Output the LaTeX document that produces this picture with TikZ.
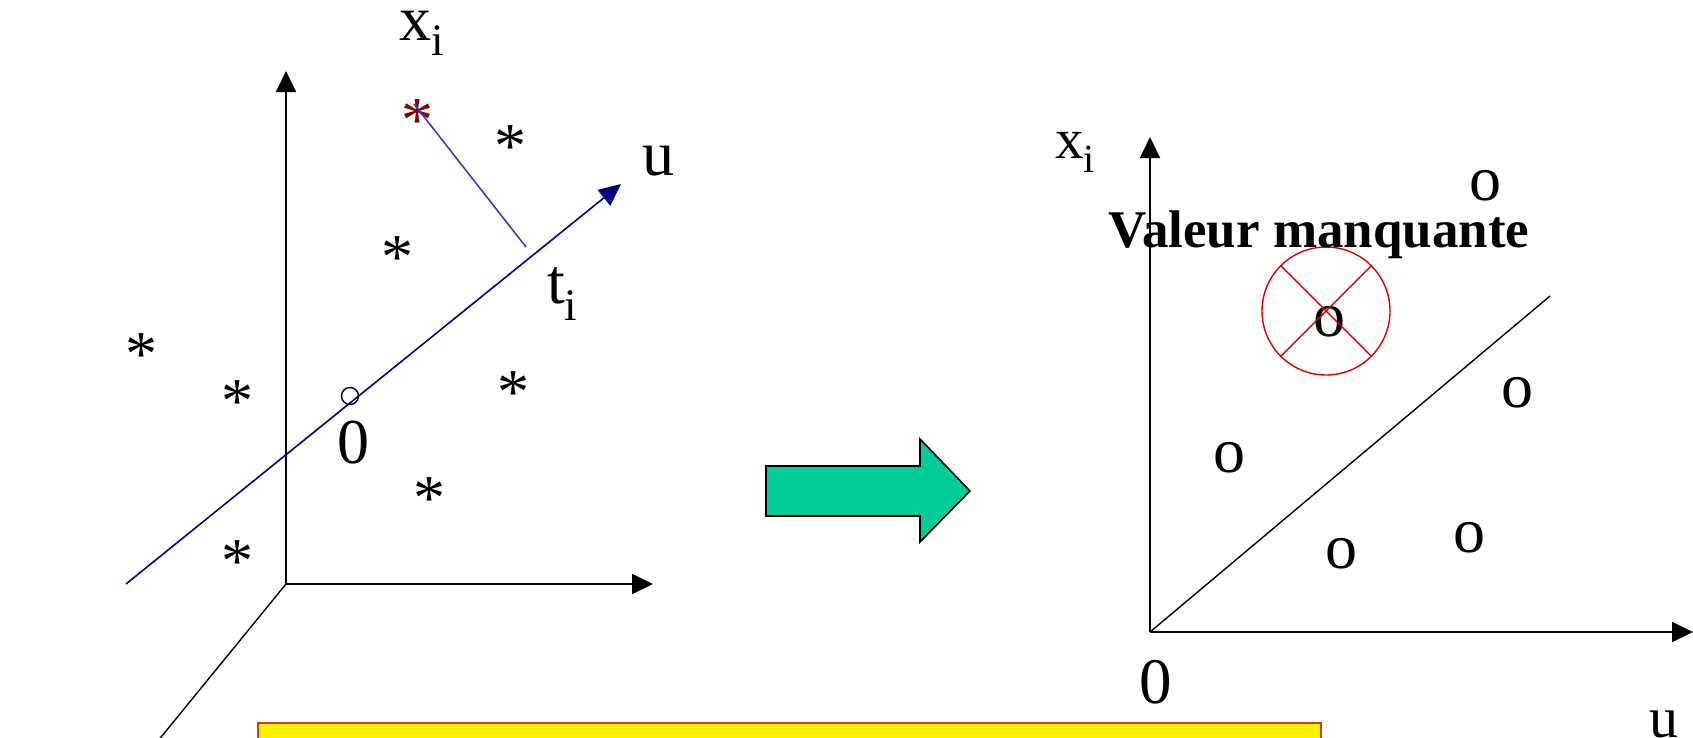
\documentclass[tikz,border=0pt]{standalone}
\usepackage{fontspec}
\setmainfont{Liberation Serif}
\usetikzlibrary{arrows.meta}
\definecolor{navy}{RGB}{0,0,128}
\definecolor{projblue}{RGB}{51,51,204}
\definecolor{darkred}{RGB}{128,0,0}
\definecolor{arrowgreen}{RGB}{0,204,153}
\definecolor{boxborder}{RGB}{190,70,20}
\definecolor{circred}{RGB}{220,0,0}
\tikzset{
  axis/.style={line width=1.8pt, -{Triangle[length=21pt,width=20pt]}},
  thinline/.style={line width=1.4pt},
  lbl/.style={font=\fontsize{64}{64}\selectfont, inner sep=0pt, anchor=base west},
  star/.style={font=\fontsize{64}{64}\selectfont, inner sep=0pt, anchor=base},
  pnt/.style={font=\fontsize{64}{64}\selectfont, inner sep=0pt, anchor=base},
}
\begin{document}
\begin{tikzpicture}[x=1pt,y=-1pt]
\useasboundingbox (0,0) rectangle (1693,737);
\clip (0,0) rectangle (1693,737);
% ---------- left panel ----------
\coordinate (O1) at (286,584);
\coordinate (Y1) at (286,71);
\coordinate (X1) at (653,584);
\coordinate (Z1) at (135,769);
\draw[axis] (O1) -- (Y1);
\draw[axis] (O1) -- (X1);
\draw[thinline] (O1) -- (Z1);
\coordinate (U0) at (126,584);
\coordinate (U1) at (621,184);
\draw[navy, line width=1.6pt, -{Triangle[length=22pt,width=20pt]}] (U0) -- (U1);
\node[circle, draw, line width=1.4pt, minimum size=17pt, inner sep=0pt] (orig) at (350,396) {};
% points
\node[star] (s1) at (141,375) {*};
\node[star] (s2) at (237,422) {*};
\node[star] (s3) at (397,278) {*};
\node[star] (s4) at (510,167) {*};
\node[star] (s5) at (513,413) {*};
\node[star] (s6) at (429,519) {*};
\node[star] (s7) at (237,582) {*};
\node[star, text=darkred] (sx) at (417,141) {*};
\coordinate (proj) at (526,247);
\coordinate (sxc) at (414,104);
\draw[projblue, line width=1.5pt] (sxc) -- (proj);
% labels
\node[lbl] (xil) at (399,40) {x\raisebox{-15pt}{\fontsize{45}{45}\selectfont i}};
\node[lbl] (til) at (547,303) {t\raisebox{-17pt}{\fontsize{45}{45}\selectfont i}};
\node[lbl] (ul) at (642,175) {u};
\node[lbl] (zl) at (337,463) {0};
% ---------- arrow ----------
\fill[arrowgreen] (766,466) -- (920,466) -- (920,439) -- (970,491) -- (920,542) -- (920,516) -- (766,516) -- cycle;
\draw[line width=1.6pt, line join=miter] (766,466) -- (920,466) -- (920,439) -- (970,491) -- (920,542) -- (920,516) -- (766,516) -- cycle;
% ---------- right panel ----------
\coordinate (O2) at (1150,632);
\coordinate (Y2) at (1150,137);
\coordinate (X2) at (1693,632);
\coordinate (D2) at (1550,296);
\draw[axis] (O2) -- (Y2);
\draw[axis] (O2) -- (X2);
\draw[thinline] (O2) -- (D2);
\node[pnt] (p1) at (1485,200) {o};
\node[pnt] (p2) at (1329,336) {o};
\node[pnt] (p3) at (1517,407) {o};
\node[pnt] (p4) at (1229,472) {o};
\node[pnt] (p5) at (1341,568) {o};
\node[pnt] (p6) at (1469,552) {o};
\node[circle, draw=circred, line width=1.4pt, minimum size=128pt, inner sep=0pt] (miss) at (1326,311) {};
\draw[circred, line width=1.4pt] (miss.45) -- (miss.225);
\draw[circred, line width=1.4pt] (miss.135) -- (miss.-45);
\node[font=\bfseries\fontsize{53}{53}\selectfont, inner sep=0pt, anchor=base] (val) at (1319,247) {Valeur manquante};
\node[font=\fontsize{57}{57}\selectfont, inner sep=0pt, anchor=base west] (xir) at (1055,158) {x\raisebox{-14pt}{\fontsize{40}{40}\selectfont i}};
\node[font=\fontsize{65}{65}\selectfont, inner sep=0pt, anchor=base west] (zr) at (1139,703) {0};
\node[font=\fontsize{58}{58}\selectfont, inner sep=0pt, anchor=base] (ur) at (1664,737) {u};
% ---------- yellow box ----------
\draw[boxborder, fill=yellow, line width=2.2pt] (258,723) rectangle (1321,770);
\end{tikzpicture}
\end{document}
